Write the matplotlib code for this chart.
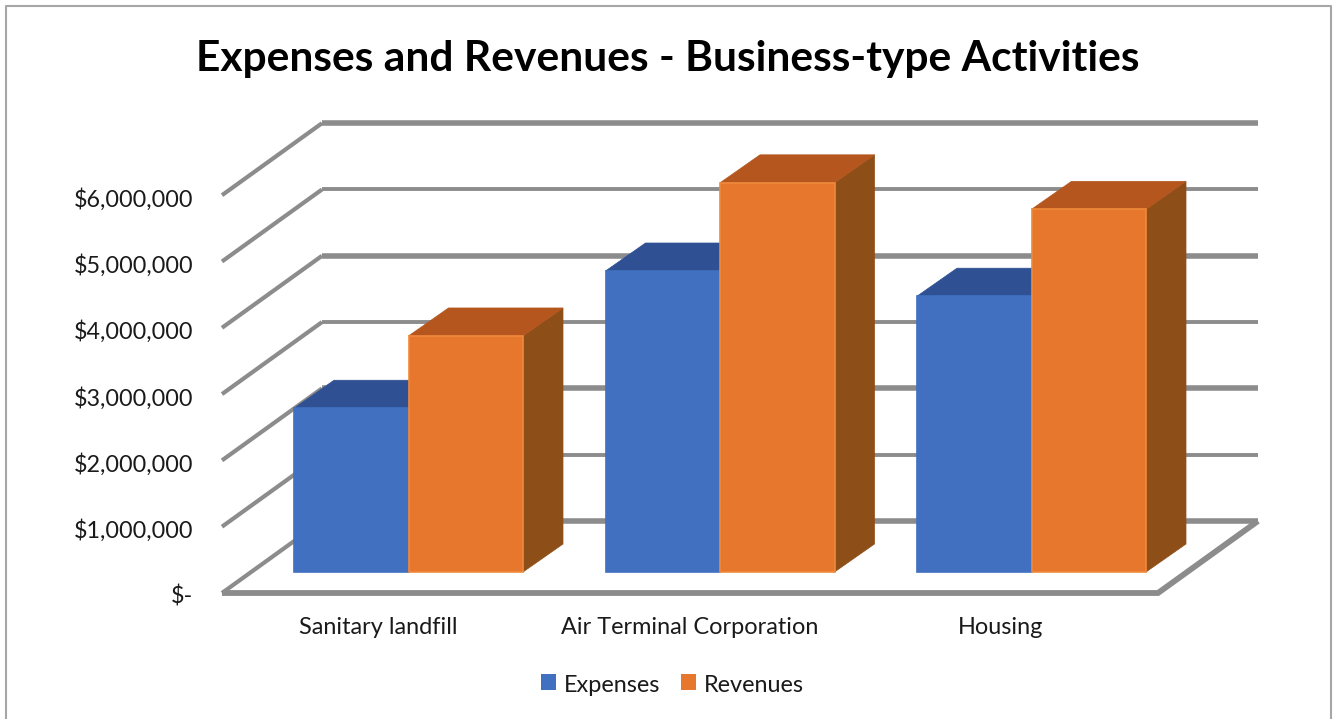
import numpy as np
import matplotlib
matplotlib.use('Agg')
import matplotlib.pyplot as plt
from matplotlib.patches import Polygon, Rectangle

categories = ['Sanitary landfill', 'Air Terminal Corporation', 'Housing']
expenses = [2470000, 4540000, 4160000]
revenues = [3560000, 5870000, 5470000]
tick_values = [0, 1000000, 2000000, 3000000, 4000000, 5000000, 6000000]
tick_labels = ['$-', '$1,000,000', '$2,000,000', '$3,000,000', '$4,000,000', '$5,000,000', '$6,000,000']

blue = '#4070BF'
blue_top = '#2F5092'
orange = '#E8772E'
orange_edge = '#F08A3C'
orange_top = '#B4561E'
orange_side = '#8E4E17'
blue_side = '#2F5092'
grid = '#8C8C8C'
text_col = '#1A1A1A'

W, H = 1333, 719
fig = plt.figure(figsize=(W / 100, H / 100), dpi=100)
plt.rcParams['font.family'] = ['Lato', 'DejaVu Sans']
ax = fig.add_axes([0, 0, 1, 1])
# one category is 311.5 px wide, one million dollars is 66.3 px high
ax.set_xlim((0 - 408.5) / 311.5, (W - 408.5) / 311.5)
ax.set_ylim((572 - H) / 66.3 * 1e6, 572 / 66.3 * 1e6)
ax.axis('off')

px = 1 / 311.5
py = 1e6 / 66.3
bar_w = 114.5 * px
# depth offsets
wall_dx, wall_dy = 100 * px, 72 * py
bar_dx, bar_dy = 40 * px, 28 * py
floor_x0, floor_x1 = -186.5 * px, 749.5 * px
floor_y = -21 * py


def X(p):
    return (p - 408.5) * px


def Y(p):
    return (572 - p) * py


# chart border, open at the bottom
ax.plot([X(6), X(6), X(1331), X(1331)], [Y(719), Y(6), Y(6), Y(719)], color='#A6A6A6', lw=1.5)

# back wall grid and side wall
for i, v in enumerate(tick_values):
    y0 = v + floor_y
    ax.plot([floor_x0, floor_x0 + wall_dx], [y0, y0 + wall_dy], color=grid, lw=3.0,
            solid_capstyle='butt', zorder=1)
    ax.plot([floor_x0 + wall_dx, floor_x1 + wall_dx], [y0 + wall_dy, y0 + wall_dy], color=grid,
            lw=4.0 if i % 2 == 0 else 2.8, solid_capstyle='butt', zorder=1)
# floor edge
ax.plot([floor_x0, floor_x1, floor_x1 + wall_dx], [floor_y, floor_y, floor_y + wall_dy],
        color=grid, lw=4.2, solid_joinstyle='miter', solid_capstyle='butt', zorder=1)

for i, name in enumerate(categories):
    for x0, val, front, edge, top, side in [(i - bar_w, expenses[i], blue, blue, blue_top, blue_side),
                                            (i, revenues[i], orange, orange_edge, orange_top, orange_side)]:
        ax.add_patch(Polygon([(x0 + bar_w, 0), (x0 + bar_w + bar_dx, bar_dy),
                              (x0 + bar_w + bar_dx, val + bar_dy), (x0 + bar_w, val)],
                             fc=side, ec=side, lw=0.5, zorder=3))
        ax.add_patch(Polygon([(x0, val), (x0 + bar_dx, val + bar_dy),
                              (x0 + bar_w + bar_dx, val + bar_dy), (x0 + bar_w, val)],
                             fc=top, ec=top, lw=0.5, zorder=3))
        ax.add_patch(Rectangle((x0, 0), bar_w, val, fc=front, ec=edge, lw=1.2, zorder=4))
    ax.text(i - 0.098, Y(628), name, fontsize=16.9, ha='center', va='center', color=text_col)

for v, lab in zip(tick_values, tick_labels):
    ax.text(X(193), v + floor_y - 4 * py, lab, fontsize=16.8, ha='right', va='center', color=text_col)

ax.text(X(668), Y(59), 'Expenses and Revenues - Business-type Activities',
        fontsize=30.6, fontweight='bold', ha='center', va='center', color='black')

# legend
for xp, col, lab in [(541, blue, 'Expenses'), (681, orange, 'Revenues')]:
    ax.add_patch(Rectangle((X(xp), Y(690)), 15 * px, 16 * py, fc=col, ec='none'))
    ax.text(X(xp + 23), Y(686), lab, fontsize=16.9, ha='left', va='center', color=text_col)

fig.savefig('out.png', dpi=100)
